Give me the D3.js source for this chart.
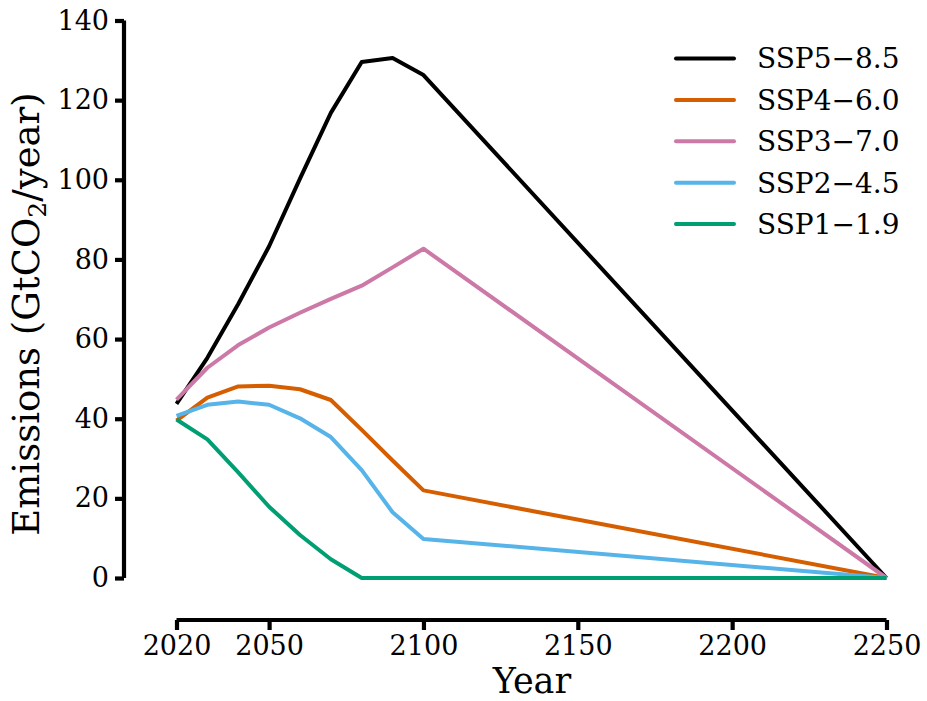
<!DOCTYPE html>
<html><head><meta charset="utf-8">
<script src="https://cdn.jsdelivr.net/npm/d3@7"></script>
<style>body{margin:0;background:#fff}</style>
</head><body>
<svg id="c" width="927" height="701"></svg>
<script>
const years = [2020, 2030, 2040, 2050, 2060, 2070, 2080, 2090, 2100, 2250];
const ssp585 = [43.7, 55.3, 68.8, 83.3, 100.3, 116.8, 129.6, 130.6, 126.3, 0];
const ssp460 = [39.5, 45.3, 48.1, 48.3, 47.4, 44.7, 37.2, 29.5, 22.0, 0];
const ssp370 = [44.8, 52.8, 58.5, 62.9, 66.6, 70.1, 73.4, 78.0, 82.7, 0];
const ssp245 = [40.7, 43.5, 44.3, 43.5, 40.1, 35.4, 27.1, 16.5, 9.8, 0];
const ssp119 = [39.8, 34.8, 26.5, 17.9, 10.8, 4.7, 0, 0, 0, 0];
const seriesNames = ["SSP5\u22128.5", "SSP4\u22126.0", "SSP3\u22127.0", "SSP2\u22124.5", "SSP1\u22121.9"];
const seriesColors = ["#000000", "#D55E00", "#CC79A7", "#56B4E9", "#009E73"];
const xTicks = [2020, 2050, 2100, 2150, 2200, 2250];
const yTicks = [0, 20, 40, 60, 80, 100, 120, 140];

const allSeries = [ssp585, ssp460, ssp370, ssp245, ssp119];
const svg = d3.select("#c");
const font = "DejaVu Serif";
const x = d3.scaleLinear().domain([2020, 2250]).range([176.5, 886.5]);
const y = d3.scaleLinear().domain([0, 140]).range([578, 20.5]);

// y axis
const ya = svg.append("g").attr("transform", "translate(124,0)")
  .call(d3.axisLeft(y).tickValues(yTicks).tickSize(9).tickPadding(6));
ya.select(".domain").attr("stroke", "#000").attr("stroke-width", 4.2)
  .attr("d", `M0,${y(0)}V${y(140)}`);
ya.selectAll(".tick line").attr("stroke-width", 4.2);
ya.selectAll(".tick text").attr("font-family", font).attr("font-size", 27).attr("fill", "#000");

// x axis
const xa = svg.append("g").attr("transform", "translate(0,620)")
  .call(d3.axisBottom(x).tickValues(xTicks).tickFormat(d3.format("d")).tickSize(10).tickPadding(6));
xa.select(".domain").attr("stroke", "#000").attr("stroke-width", 4.2)
  .attr("d", `M${x(2020)},0H${x(2250)}`);
xa.selectAll(".tick line").attr("stroke-width", 4.2);
xa.selectAll(".tick text").attr("font-family", font).attr("font-size", 27).attr("fill", "#000");

// labels
svg.append("text").attr("x", 532).attr("y", 693).attr("text-anchor", "middle")
  .attr("font-family", font).attr("font-size", 35).text("Year");
const yl = svg.append("text").attr("transform", "translate(39,314) rotate(-90)")
  .attr("text-anchor", "middle").attr("font-family", font).attr("font-size", 37);
yl.append("tspan").text("Emissions (GtCO");
yl.append("tspan").attr("font-size", 25).attr("dy", 7).text("2");
yl.append("tspan").attr("dy", -7).text("/year)");

const line = d3.line().x((d, i) => x(years[i])).y(d => y(d));
allSeries.forEach((s, k) => {
  svg.append("path").datum(s).attr("d", line).attr("fill", "none")
    .attr("stroke", seriesColors[k]).attr("stroke-width", 4).attr("stroke-linejoin", "round");
});

// legend
const lg = svg.append("g");
seriesNames.forEach((n, k) => {
  const yy = 58.5 + k * 41.4;
  lg.append("line").attr("x1", 676).attr("x2", 734).attr("y1", yy).attr("y2", yy)
    .attr("stroke", seriesColors[k]).attr("stroke-width", 4).attr("stroke-linecap", "round");
  lg.append("text").attr("x", 757).attr("y", yy).attr("dy", "0.35em")
    .attr("font-family", font).attr("font-size", 28).text(n);
});
</script>
</body></html>
